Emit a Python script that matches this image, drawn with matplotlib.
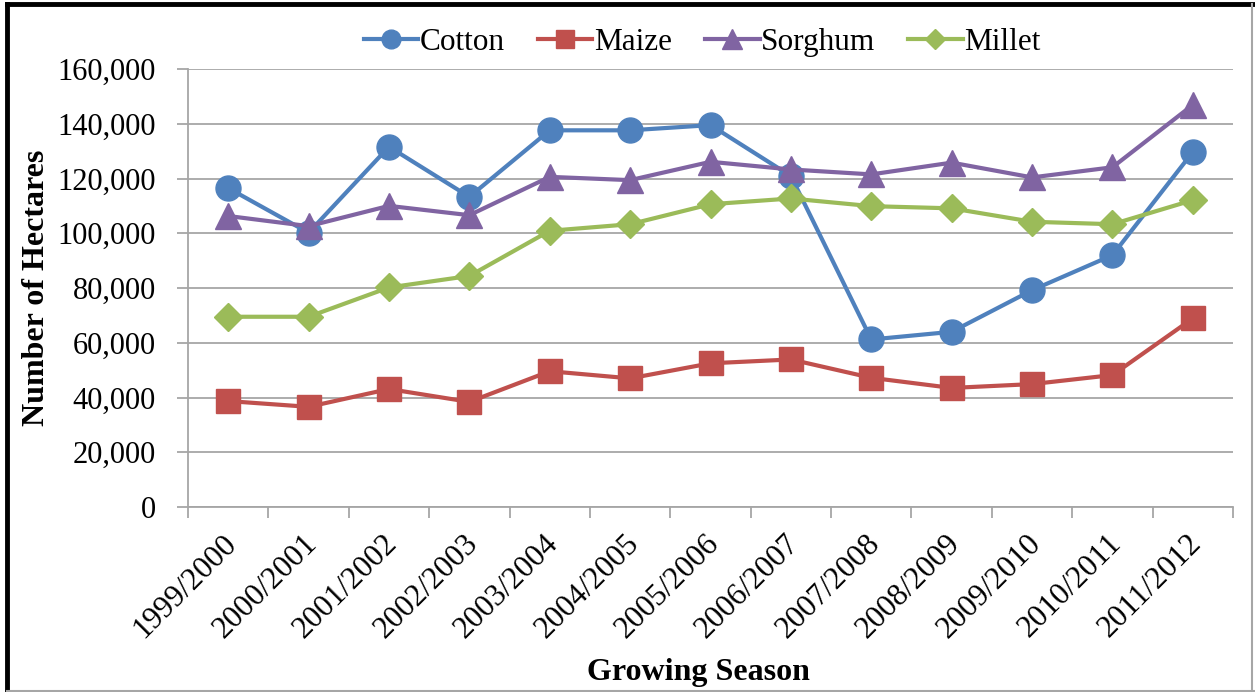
import numpy as np
import matplotlib
matplotlib.use("Agg")
import matplotlib.pyplot as plt
import matplotlib.transforms as mtransforms
from matplotlib.ticker import FuncFormatter, FixedLocator

seasons = ["1999/2000", "2000/2001", "2001/2002", "2002/2003", "2003/2004",
           "2004/2005", "2005/2006", "2006/2007", "2007/2008", "2008/2009",
           "2009/2010", "2010/2011", "2011/2012"]
cotton = [116500, 100200, 131600, 113300, 137600, 137600, 139500,
          120900, 61200, 64000, 79200, 92000, 129700]
maize = [38700, 36600, 43100, 38400, 49600, 47000, 52500,
         53900, 47200, 43500, 44900, 48200, 68900]
sorghum = [106300, 102600, 110000, 106600, 120600, 119400, 126100,
           123300, 121500, 125800, 120400, 124100, 146900]
millet = [69500, 69500, 80200, 84400, 100900, 103300, 110600,
          112700, 109900, 109100, 104200, 103300, 112100]

plt.rcParams['font.family'] = ['Liberation Serif', 'DejaVu Serif']

fig = plt.figure(figsize=(12.55, 6.92), dpi=100)
ax = fig.add_axes([0.1498, 0.2673, 0.8327, 0.633])

x = np.arange(len(seasons))
ax.plot(x, cotton, color='#4F81BD', lw=3, marker='o', ms=18, label='Cotton')
ax.plot(x, maize, color='#C0504D', lw=3, marker='s', ms=17, label='Maize')
ax.plot(x, sorghum, color='#8064A2', lw=3, marker='^', ms=19, label='Sorghum')
ax.plot(x, millet, color='#9BBB59', lw=3, marker='D', ms=14, label='Millet')

ax.set_xlim(-0.5, len(seasons) - 0.5)
ax.set_ylim(0, 160000)
ax.set_yticks(np.arange(0, 160001, 20000))
ax.yaxis.set_major_formatter(FuncFormatter(lambda v, p: f"{int(v):,}"))
ax.grid(axis='y', color='#A6A6A6', lw=1.3)
ax.set_axisbelow(True)

ax.set_xticks(x)
ax.set_xticklabels(seasons, rotation=45, ha='right', rotation_mode='anchor', fontsize=22.5)
ax.tick_params(axis='x', which='major', length=0, pad=16)
shift = mtransforms.ScaledTranslation(-6 / 100, 0, fig.dpi_scale_trans)
for lab in ax.get_xticklabels():
    lab.set_transform(lab.get_transform() + shift)
ax.xaxis.set_minor_locator(FixedLocator(np.arange(-0.5, len(seasons), 1.0)))
ax.tick_params(axis='x', which='minor', length=8, color='#A6A6A6', width=1.3)
ax.tick_params(axis='y', length=8, color='#A6A6A6', width=1.3, labelsize=22, pad=15)

for s in ['top', 'right']:
    ax.spines[s].set_visible(False)
for s in ['left', 'bottom']:
    ax.spines[s].set_color('#A6A6A6')
    ax.spines[s].set_linewidth(1.3)

ax.set_ylabel('Number of Hectares', fontsize=23, fontweight='bold', labelpad=5)
ax.set_xlabel('Growing Season', fontsize=23, fontweight='bold', labelpad=10)
ax.xaxis.label.set_x(0.488)

ax.legend(loc='lower center', bbox_to_anchor=(0.492, 0.985), ncol=4, frameon=False,
          fontsize=22.5, handlelength=1.75, handletextpad=0.05, columnspacing=1.05,
          markerscale=0.75, borderaxespad=0.2)

# frame round the figure
fig.add_artist(plt.Line2D([0.0055, 0.0055], [0, 0.994], color='black', lw=3.5,
                          transform=fig.transFigure))
fig.add_artist(plt.Line2D([0.0055, 1], [0.994, 0.994], color='black', lw=3.5,
                          transform=fig.transFigure))
fig.add_artist(plt.Line2D([0.998, 0.998], [0, 0.994], color='#A6A6A6', lw=1.5,
                          transform=fig.transFigure))
fig.add_artist(plt.Line2D([0.0055, 1], [0.002, 0.002], color='#A6A6A6', lw=1.5,
                          transform=fig.transFigure))

fig.savefig('out.png', dpi=100)
